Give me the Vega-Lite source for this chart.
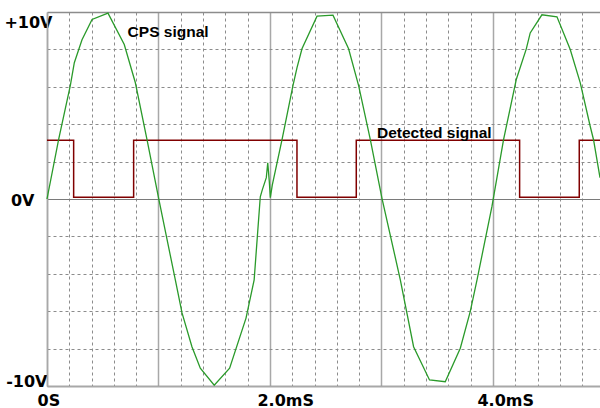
{
  "$schema": "https://vega.github.io/schema/vega-lite/v6.json",
  "width": 553,
  "height": 374,
  "autosize": {"type": "none"},
  "padding": {"left": 47, "top": 12, "right": 0, "bottom": 22},
  "background": "white",
  "config": {"view": {"stroke": null}},
  "encoding": {
    "x": {
      "field": "t", "type": "quantitative",
      "scale": {"domain": [0, 4.96], "nice": false, "zero": false},
      "axis": {
        "title": null,
        "values": [0,0.2,0.4,0.6,0.8,1,1.2,1.4,1.6,1.8,2,2.2,2.4,2.6,2.8,3,3.2,3.4,3.6,3.8,4,4.2,4.4,4.6,4.8],
        "labelExpr": "datum.value == 0 ? '0S' : datum.value == 2 ? '2.0mS' : datum.value == 4 ? '4.0mS' : ''",
        "labelOverlap": false,
        "labelFlush": false,
        "labelAlign": "left",
        "labelBaseline": "top",
        "labelPadding": 6,
        "labelOffset": {"condition": [{"test": "datum.value == 0", "value": -10}, {"test": "datum.value == 2", "value": -13}], "value": -16},
        "labelFont": "DejaVu Sans",
        "labelFontWeight": "bold",
        "labelFontSize": 16,
        "labelColor": "#000000",
        "ticks": false,
        "tickSize": 0,
        "domain": true,
        "domainColor": "#a8a8a8",
        "domainWidth": 1.5,
        "grid": true,
        "gridColor": {"condition": {"test": "abs(datum.value - round(datum.value)) < 0.01", "value": "#a8a8a8"}, "value": "#8c8c8c"},
        "gridWidth": {"condition": {"test": "abs(datum.value - round(datum.value)) < 0.01", "value": 1.5}, "value": 1},
        "gridDash": {"condition": {"test": "abs(datum.value - round(datum.value)) < 0.01", "value": []}, "value": [3, 3]}
      }
    },
    "y": {
      "field": "v", "type": "quantitative",
      "scale": {"domain": [-10, 10], "nice": false, "zero": false},
      "axis": {
        "title": null,
        "values": [-10,-8,-6,-4,-2,0,2,4,6,8,10],
        "labelExpr": "datum.value == 10 ? '+10V' : datum.value == 0 ? '0V' : datum.value == -10 ? '-10V' : ''",
        "labelOverlap": false,
        "labelFlush": false,
        "labelPadding": {"condition": [{"test": "datum.value == 10", "value": -5}, {"test": "datum.value == 0", "value": 13}], "value": 0},
        "labelBaseline": {"condition": [{"test": "datum.value == 10", "value": "top"}, {"test": "datum.value == -10", "value": "alphabetic"}], "value": "middle"},
        "labelOffset": {"condition": [{"test": "datum.value == 10", "value": 2}, {"test": "datum.value == 0", "value": 1}], "value": 0},
        "labelFont": "DejaVu Sans",
        "labelFontWeight": "bold",
        "labelFontSize": 16,
        "labelColor": "#000000",
        "ticks": false,
        "tickSize": 0,
        "domain": true,
        "domainColor": "#a8a8a8",
        "domainWidth": 1.5,
        "grid": true,
        "gridColor": {"condition": {"test": "datum.value == 0", "value": "#7a7a7a"}, "value": "#8c8c8c"},
        "gridWidth": {"condition": {"test": "abs(datum.value) == 10", "value": 1.5}, "value": 1},
        "gridDash": {"condition": {"test": "datum.value == 0 || abs(datum.value) == 10", "value": []}, "value": [3, 3]}
      }
    }
  },
  "layer": [
    {
      "data": {"values": [
        {"t": 0, "v": 3.14}, {"t": 0.239, "v": 0.1}, {"t": 0.777, "v": 3.14},
        {"t": 2.242, "v": 0.1}, {"t": 2.774, "v": 3.14}, {"t": 4.239, "v": 0.1},
        {"t": 4.774, "v": 3.14}, {"t": 4.96, "v": 3.14}
      ]},
      "mark": {"type": "line", "interpolate": "step-after", "color": "#800000", "strokeWidth": 1.5}
    },
    {
      "data": {"values": [
        {"t": 0, "v": 0}, {"t": 0.104, "v": 3.17}, {"t": 0.209, "v": 6.06}, {"t": 0.245, "v": 7.29},
        {"t": 0.314, "v": 8.52}, {"t": 0.404, "v": 9.6}, {"t": 0.547, "v": 9.94}, {"t": 0.693, "v": 8.26},
        {"t": 0.792, "v": 6.23}, {"t": 0.897, "v": 3.17}, {"t": 1.001, "v": 0.05}, {"t": 1.151, "v": -4.33},
        {"t": 1.211, "v": -6.09}, {"t": 1.3, "v": -7.9}, {"t": 1.375, "v": -9.05}, {"t": 1.5, "v": -9.96},
        {"t": 1.638, "v": -9.05}, {"t": 1.785, "v": -6.37}, {"t": 1.858, "v": -4.32}, {"t": 1.913, "v": 0.12},
        {"t": 1.931, "v": 0.49}, {"t": 1.967, "v": 1.14}, {"t": 1.98, "v": 1.94}, {"t": 1.994, "v": 0.92},
        {"t": 2.003, "v": 0.07}, {"t": 2.021, "v": 0.76}, {"t": 2.108, "v": 3.17}, {"t": 2.206, "v": 6.06},
        {"t": 2.242, "v": 7.01}, {"t": 2.287, "v": 8.03}, {"t": 2.422, "v": 9.78}, {"t": 2.565, "v": 9.83},
        {"t": 2.705, "v": 8.03}, {"t": 2.795, "v": 6.06}, {"t": 2.9, "v": 3.17}, {"t": 3.004, "v": 0.05},
        {"t": 3.169, "v": -4.32}, {"t": 3.288, "v": -7.9}, {"t": 3.431, "v": -9.68}, {"t": 3.572, "v": -9.77},
        {"t": 3.707, "v": -7.98}, {"t": 3.796, "v": -6.02}, {"t": 3.857, "v": -4.32}, {"t": 3.991, "v": -0.4},
        {"t": 4.095, "v": 3.17}, {"t": 4.209, "v": 6.39}, {"t": 4.299, "v": 8.03}, {"t": 4.334, "v": 8.88},
        {"t": 4.439, "v": 9.85}, {"t": 4.574, "v": 9.74}, {"t": 4.693, "v": 7.99}, {"t": 4.783, "v": 6.21},
        {"t": 4.872, "v": 3.89}, {"t": 4.902, "v": 3.17}, {"t": 4.96, "v": 1.14}
      ]},
      "mark": {"type": "line", "color": "#2a9a2a", "strokeWidth": 1.3}
    },
    {
      "data": {"values": [
        {"t": 0.723, "v": 8.65, "label": "CPS signal"},
        {"t": 2.96, "v": 3.25, "label": "Detected signal"}
      ]},
      "mark": {"type": "text", "align": "left", "baseline": "alphabetic", "font": "Liberation Sans", "fontWeight": "bold", "fontSize": 15.5, "color": "#000000"},
      "encoding": {"text": {"field": "label", "type": "nominal"}}
    }
  ]
}
